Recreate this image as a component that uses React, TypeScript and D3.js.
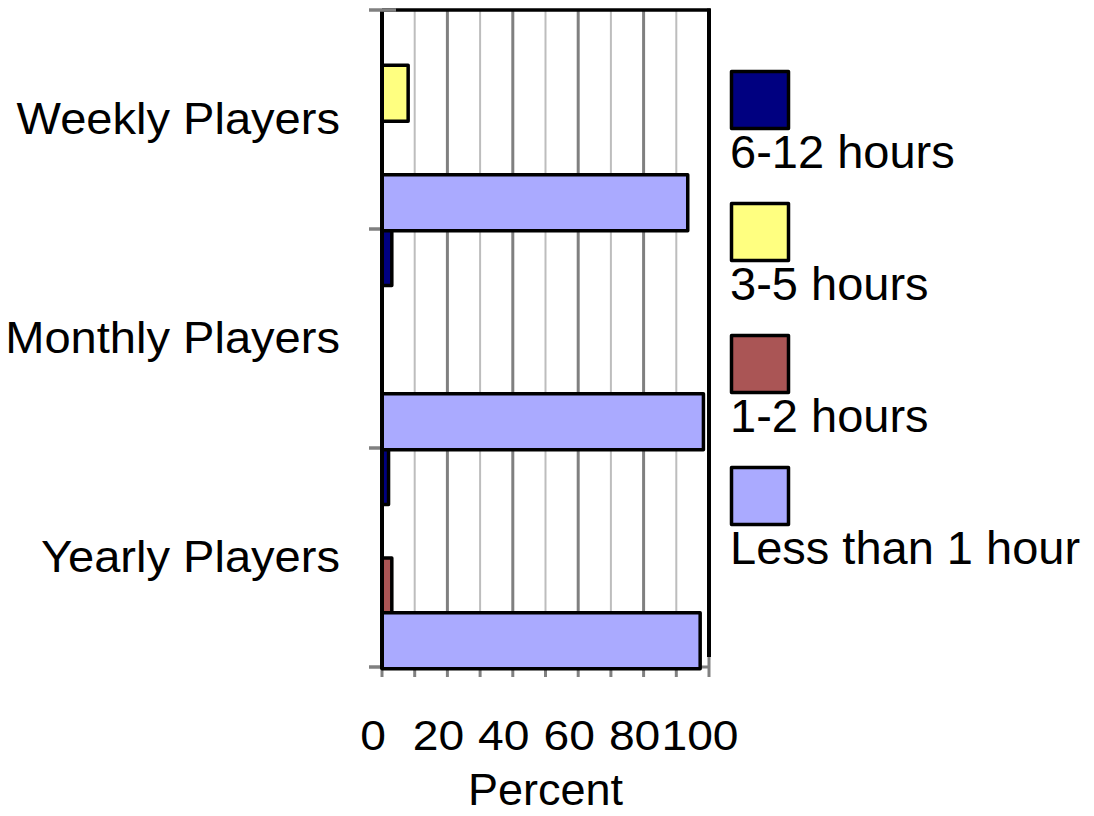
import React from "react";
import * as d3 from "d3";

const categories = ["Weekly Players", "Monthly Players", "Yearly Players"];
const seriesNames = ["6-12 hours", "3-5 hours", "1-2 hours", "Less than 1 hour"];
const seriesColors = ["#000080", "#FFFF80", "#AA5555", "#AAAAFF"];
const hours6to12 = [0, 3.0, 2.0];
const hours3to5 = [8, 0, 0];
const hours1to2 = [0, 0, 3.0];
const lessThan1 = [93.5, 98.3, 97.3];
const seriesValues = [hours6to12, hours3to5, hours1to2, lessThan1];
const xTicks = [0, 20, 40, 60, 80, 100];
const xMinor = [10, 30, 50, 70, 90];
const xTitle = "Percent";

const W = 1094;
const H = 816;
const FONT = "'Liberation Sans', Arial, sans-serif";

export default function App() {
  const x = d3.scaleLinear().domain([0, 100]).range([382, 709]);
  const y = d3.scaleBand<string>().domain(categories).range([10, 667]).paddingInner(0).paddingOuter(0);
  const inner = d3.scaleBand<string>().domain(seriesNames).range([0, y.bandwidth()]).padding(0);
  const top = 10;
  const bottom = 667;
  const barH = 56;

  return (
    <svg width={W} height={H} style={{ position: "absolute", left: 0, top: 0, background: "#fff" }} fontFamily={FONT}>
      {xMinor.map((v) => (
        <line key={"mi" + v} x1={x(v)} x2={x(v)} y1={top} y2={bottom} stroke="#bdbdbd" strokeWidth={2} />
      ))}
      {xTicks.map((v) => (
        <line key={"ma" + v} x1={x(v)} x2={x(v)} y1={top} y2={bottom} stroke="#808080" strokeWidth={3} />
      ))}
      {[...xTicks, ...xMinor].map((v) => (
        <line key={"tk" + v} x1={x(v)} x2={x(v)} y1={bottom} y2={677} stroke="#808080" strokeWidth={3} />
      ))}
      <line x1={x(0)} x2={x(100)} y1={bottom} y2={bottom} stroke="#808080" strokeWidth={3} />
      {seriesNames.map((s, si) =>
        categories.map((c, ci) => {
          const v = seriesValues[si][ci];
          if (!v) return null;
          const y0 = (y(c) as number) + (inner(s) as number) + 0.5;
          return (
            <rect
              key={s + c}
              x={x(0)}
              y={y0}
              width={x(v) - x(0)}
              height={barH}
              fill={seriesColors[si]}
              stroke="#000"
              strokeWidth={3.5}
              strokeLinejoin="round"
            />
          );
        })
      )}
      <line x1={x(0)} x2={x(100) + 1.5} y1={top} y2={top} stroke="#000" strokeWidth={3.5} />
      <line x1={x(100)} x2={x(100)} y1={top - 1.5} y2={657} stroke="#000" strokeWidth={4} />
      <line x1={x(0)} x2={x(0)} y1={top} y2={669} stroke="#000" strokeWidth={4} />
      {[...categories.map((c) => y(c) as number), bottom].map((yy, i) => (
        <line key={"yt" + i} x1={369} x2={i === 0 ? 396 : x(0) - 2} y1={yy} y2={yy} stroke="#808080" strokeWidth={3.5} />
      ))}
      {categories.map((c) => (
        <text
          key={"cl" + c}
          transform={`translate(340,${(y(c) as number) + y.bandwidth() / 2 + 14}) scale(1.07,1)`}
          textAnchor="end"
          fontSize={44}
          fill="#000"
        >
          {c}
        </text>
      ))}
      {xTicks.map((v) => (
        <text
          key={"xl" + v}
          transform={`translate(${x(v) - 9},750) scale(1.1,1)`}
          textAnchor="middle"
          fontSize={42}
          fill="#000"
        >
          {v}
        </text>
      ))}
      <text x={(x(0) + x(100)) / 2} y={805} textAnchor="middle" fontSize={45} fill="#000">
        {xTitle}
      </text>
      {seriesNames.map((s, i) => {
        const ty = 70 + i * 132;
        return (
          <g key={"lg" + s}>
            <rect x={731.5} y={ty + 1.5} width={57} height={57} fill={seriesColors[i]} stroke="#000" strokeWidth={3.5} strokeLinejoin="round" />
            <text x={730} y={ty + 97.7} fontSize={47} fill="#000">
              {s}
            </text>
          </g>
        );
      })}
    </svg>
  );
}
